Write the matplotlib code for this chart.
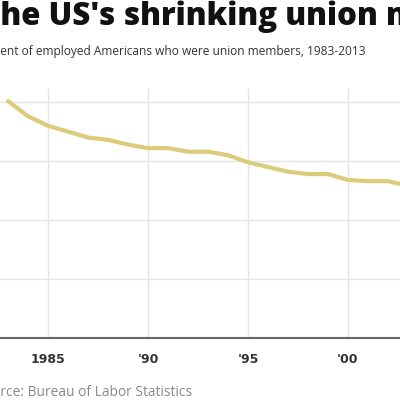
import matplotlib
matplotlib.use("Agg")
import matplotlib.pyplot as plt

years = list(range(1983, 2014))
members = [20.1, 18.8, 18.0, 17.5, 17.0, 16.8, 16.4, 16.1, 16.1, 15.8,
           15.8, 15.5, 14.9, 14.5, 14.1, 13.9, 13.9, 13.4, 13.3, 13.3,
           12.9, 12.5, 12.5, 12.0, 12.1, 12.4, 12.3, 11.9, 11.8, 11.3, 11.3]
tick_years = [1985, 1990, 1995, 2000]
tick_labels = ["1985", "'90", "'95", "'00"]

title = "The US's shrinking union membership"
subtitle = "Percent of employed Americans who were union members, 1983-2013"
source = "Source: Bureau of Labor Statistics"

fig = plt.figure(figsize=(4, 4), dpi=100)
ax = fig.add_axes([0, 0.155, 1, 0.625])

ax.plot(years, members, color="#dccb78", lw=3, solid_capstyle="round", zorder=3)
ax.set_xlim(1982.6, 2002.6)
ax.set_ylim(0, 21.2)
ax.set_yticks([5, 10, 15, 20])
ax.set_xticks(tick_years)
ax.set_xticklabels(tick_labels, fontsize=9, fontweight="bold", color="#333333")
ax.tick_params(axis="x", length=0, pad=11)
ax.tick_params(axis="y", length=0, labelleft=False)
ax.grid(True, color="#e6e4ea", lw=1)
for s in ["top", "left", "right"]:
    ax.spines[s].set_visible(False)
ax.spines["bottom"].set_color("#666666")
ax.spines["bottom"].set_linewidth(1.5)

# texts are cut off at the left edge in the reference, shift by width of the hidden part
r = fig.canvas.get_renderer()


def cut_text(full, hidden, y, **kw):
    t = fig.text(0, y, hidden, **kw)
    w = t.get_window_extent(renderer=r).width
    t.remove()
    fig.text(-w / 400, y, full, **kw)


cut_text(title, "T", 0.937, fontsize=22.5, fontweight=800,
         family=["Open Sans", "DejaVu Sans"], color="#111111", va="baseline")
cut_text(subtitle, "Perc", 0.862, fontsize=8.6, color="#333333",
         family=["Open Sans", "DejaVu Sans"], va="baseline")
cut_text(source, "Sou", 0.02, fontsize=9.9, color="#8a8a8a",
         family=["Open Sans", "DejaVu Sans"], va="center")

fig.savefig("out.png", dpi=100)
